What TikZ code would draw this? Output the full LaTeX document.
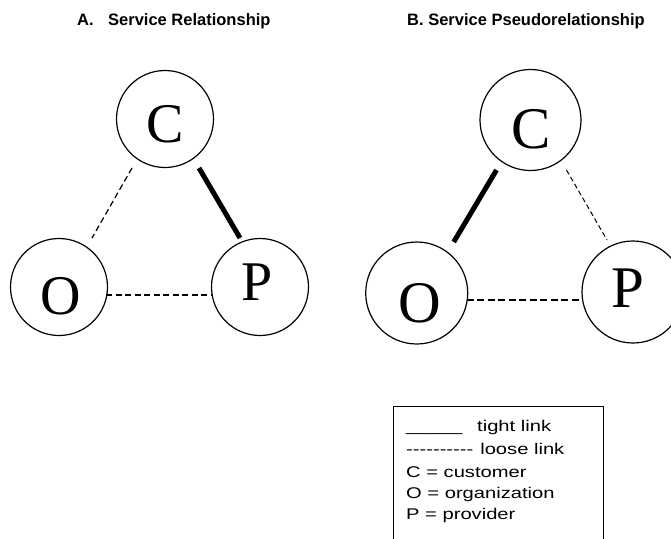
\documentclass[tikz,border=0pt]{standalone}
\usepackage{fontspec}
\setmainfont{Liberation Serif}
\newfontfamily\titlefont{Liberation Sans}
\newfontfamily\legfont[FakeStretch=1.3,Ligatures=TeXOff]{Liberation Sans}
\begin{document}
\begin{tikzpicture}[x=1pt,y=-1pt,
  circ/.style={draw,circle,line width=1.2pt,inner sep=0pt},
  letterL/.style={inner sep=0pt,anchor=base,font=\fontsize{56}{56}\selectfont},
  letterR/.style={inner sep=0pt,anchor=base,font=\fontsize{59}{59}\selectfont},
  tight/.style={line width=5pt},
  loose/.style={line width=1.2pt,dash pattern=on 6pt off 3.5pt},
  loosethin/.style={line width=1pt,dash pattern=on 5pt off 3pt},
  loosewide/.style={line width=1.4pt,dash pattern=on 7pt off 3.5pt},
  title/.style={anchor=base west,inner sep=0pt,font=\titlefont\bfseries\fontsize{16.5}{20}\selectfont},
  legtext/.style={anchor=base west,inner sep=0pt,font=\legfont\fontsize{15.5}{22}\selectfont}]
\useasboundingbox (0,0) rectangle (671,538);

% titles
\node[title] (tA) at (77,25) {A.\hspace{14.5pt}Service Relationship};
\node[title] (tB) at (407,25) {B. Service Pseudorelationship};

% left diagram
\node[circ,minimum size=97pt] (C1) at (165,119) {};
\node[circ,minimum size=97pt] (O1) at (59,287) {};
\node[circ,minimum size=97pt] (P1) at (260,287) {};
\node[letterL] (C1t) at (165.5,142) {C};
\node[letterL] (O1t) at (60.8,314) {O};
\node[letterL] (P1t) at (256.7,300.7) {P};
\draw[loose] ([shift={(-33,49)}]C1.center) -- ([shift={(33,-49)}]O1.center);
\draw[tight] ([shift={(34,49)}]C1.center) -- ([shift={(-20,-49)}]P1.center);
\draw[loose] ([shift={(47,8)}]O1.center) -- ([shift={(-47,8)}]P1.center);

% right diagram
\node[circ,minimum size=101pt] (C2) at (530.5,120) {};
\node[circ,minimum size=102pt] (O2) at (416.7,293) {};
\node[circ,minimum size=102pt] (P2) at (633,292) {};
\node[letterR] (C2t) at (531,148) {C};
\node[letterR] (O2t) at (419.7,322) {O};
\node[letterR] (P2t) at (628,307) {P};
\draw[tight] ([shift={(-34,50)}]C2.center) -- ([shift={(37,-51)}]O2.center);
\draw[loosethin] ([shift={(36,50)}]C2.center) -- ([shift={(-26,-52)}]P2.center);
\draw[loosewide] ([shift={(50,7)}]O2.center) -- ([shift={(-51,8)}]P2.center);

% legend
\node[draw,line width=1.2pt,anchor=north west,minimum width=210pt,minimum height=135pt,inner sep=0pt] (legbox) at (393,406) {};
\node[legtext] (leg1) at (406,431.5) {\_\_\_\_\_\hspace{15pt}tight link};
\node[legtext] (leg2) at (406,454) {----------\hspace{7pt}loose link};
\node[legtext] (leg3) at (406,477.5) {C = customer};
\node[legtext] (leg4) at (406,498) {O = organization};
\node[legtext] (leg5) at (406,519) {P = provider};
\end{tikzpicture}
\end{document}
